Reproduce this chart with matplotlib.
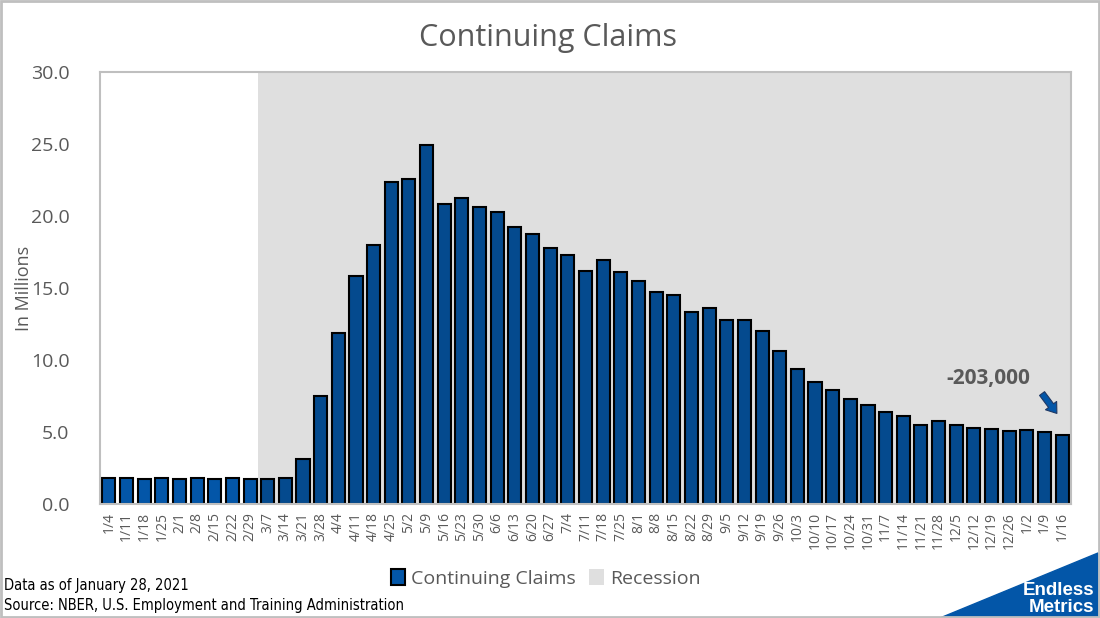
import matplotlib

matplotlib.use('agg')
import matplotlib.pyplot as plt
from matplotlib.patches import Polygon, Patch, Rectangle

plt.rcParams['font.family'] = ['Open Sans', 'DejaVu Sans']

weeks = ['1/4', '1/11', '1/18', '1/25', '2/1', '2/8', '2/15', '2/22', '2/29', '3/7',
         '3/14', '3/21', '3/28', '4/4', '4/11', '4/18', '4/25', '5/2', '5/9', '5/16',
         '5/23', '5/30', '6/6', '6/13', '6/20', '6/27', '7/4', '7/11', '7/18', '7/25',
         '8/1', '8/8', '8/15', '8/22', '8/29', '9/5', '9/12', '9/19', '9/26', '10/3',
         '10/10', '10/17', '10/24', '10/31', '11/7', '11/14', '11/21', '11/28', '12/5', '12/12',
         '12/19', '12/26', '1/2', '1/9', '1/16']
claims = [1.78, 1.78, 1.73, 1.78, 1.73, 1.78, 1.73, 1.78, 1.72, 1.72,
          1.78, 3.10, 7.50, 11.90, 15.82, 18.00, 22.33, 22.54, 24.90, 20.84,
          21.23, 20.60, 20.26, 19.22, 18.73, 17.76, 17.27, 16.17, 16.93, 16.10,
          15.48, 14.71, 14.53, 13.30, 13.60, 12.75, 12.75, 12.00, 10.60, 9.40,
          8.50, 7.90, 7.30, 6.85, 6.40, 6.10, 5.50, 5.77, 5.50, 5.29,
          5.22, 5.10, 5.15, 4.97, 4.77]
recession_start = '3/7'
change_label = '-203,000'

grey = '#595959'
blue = '#044a8e'

fig = plt.figure(figsize=(11, 6.18), dpi=100)
ax = fig.add_axes([100 / 1100, 1 - 504 / 618, 971 / 1100, 432 / 618])

x = list(range(len(weeks)))
rs = weeks.index(recession_start)
ax.axvspan(rs - 0.55, len(weeks) - 0.5, color='#dfdfdf', zorder=0, lw=0)
colors = ['#0356a8' if i < rs else blue for i in x]
ax.bar(x, claims, width=0.74, color=colors, edgecolor='black', linewidth=1.5, zorder=2)

ax.set_xlim(-0.5, len(weeks) - 0.5)
ax.set_ylim(0, 30)
ax.set_yticks([0, 5, 10, 15, 20, 25, 30])
ax.set_yticklabels(['%.1f' % v for v in [0, 5, 10, 15, 20, 25, 30]], fontsize=14, color=grey)
ax.set_xticks(x)
ax.set_xticklabels(weeks, rotation=90, fontsize=10, color=grey)
ax.tick_params(axis='x', length=0, pad=6)
ax.tick_params(axis='y', length=0, pad=22)
for s in ax.spines.values():
    s.set_color('#bfbfbf')
    s.set_linewidth(1.5)
ax.set_ylabel('In Millions', fontsize=13, color=grey)
ax.yaxis.set_label_coords(-0.069, 0.5)

fig.text(0.498, 0.938, 'Continuing Claims', ha='center', va='center', fontsize=22, color=grey)

ax.text(len(weeks) - 5.2, 8.7, change_label, ha='center', va='center', fontsize=15,
        fontweight='bold', color=grey)
ax.annotate('', xy=(53.7, 6.29), xytext=(52.86, 7.67),
            arrowprops=dict(arrowstyle='simple,head_width=1.0,head_length=0.7,tail_width=0.45',
                            mutation_scale=10, shrinkA=0, shrinkB=0,
                            fc='#0356a8', ec='#1f3864', lw=0.8))

handles = [Patch(facecolor='#0356a8', edgecolor='black', linewidth=1.5),
           Patch(facecolor='#dfdfdf', edgecolor='none')]
fig.legend(handles, ['Continuing Claims', 'Recession'], loc='center', bbox_to_anchor=(0.496, 0.064),
           ncol=2, frameon=False, fontsize=14, labelcolor=grey, handlelength=0.75,
           handleheight=0.9, handletextpad=0.3, columnspacing=0.7)

fig.text(0.004, 0.053, 'Data as of January 28, 2021', fontsize=10.5, color='black',
         fontstretch='condensed', family=['DejaVu Sans'], va='center')
fig.text(0.004, 0.020, 'Source: NBER, U.S. Employment and Training Administration', fontsize=10.5,
         color='black', fontstretch='condensed', family=['DejaVu Sans'], va='center')

# logo
fig.patches.append(Polygon([(940 / 1100, 0), (1098 / 1100, 65 / 618), (1098 / 1100, 0)],
                           closed=True, transform=fig.transFigure, color='#0356a8', zorder=5))
fig.text(0.995, 0.045, 'Endless', ha='right', va='center', fontsize=13.5, fontweight='bold',
         color='white', family=['Liberation Sans'], zorder=6)
fig.text(0.995, 0.017, 'Metrics', ha='right', va='center', fontsize=13.5, fontweight='bold',
         color='white', family=['Liberation Sans'], zorder=6)

fig.patches.append(Rectangle((0.001, 0.001), 0.998, 0.997, transform=fig.transFigure,
                             fill=False, ec='#bfbfbf', lw=2, zorder=10))

fig.savefig('out.png', dpi=100)
